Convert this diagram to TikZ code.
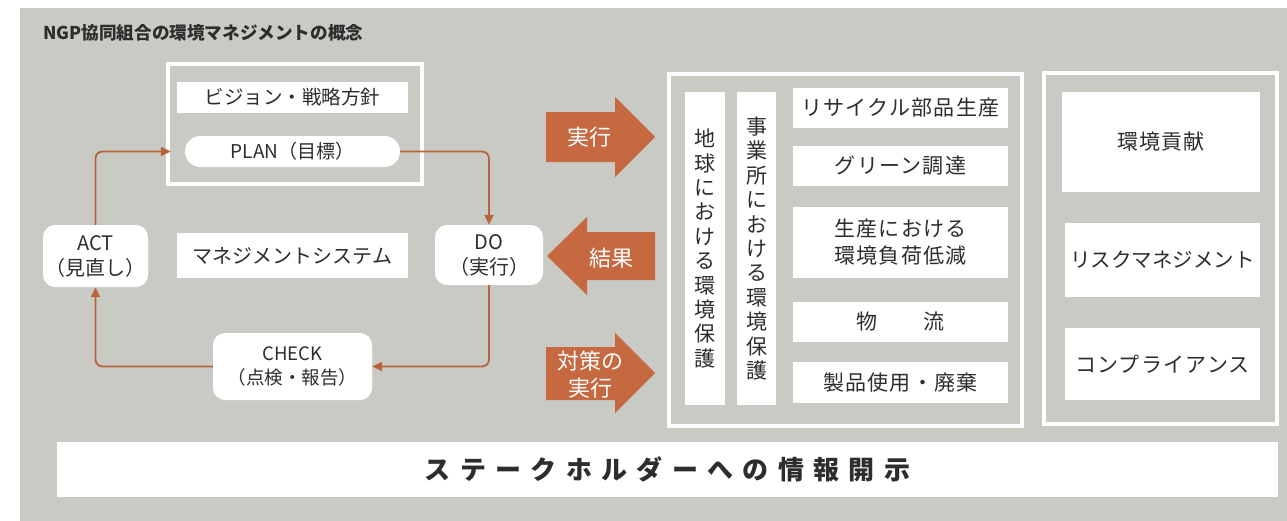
\documentclass[tikz,border=0pt]{standalone}
\usepackage{fontspec}
\setmainfont{Noto Sans CJK JP}
\newfontfamily\spacedfont[LetterSpace=36]{Noto Sans CJK JP}
\newfontfamily\boxfont[LetterSpace=6]{Noto Sans CJK JP}
\usetikzlibrary{arrows.meta}
\definecolor{bggray}{RGB}{201,202,196}
\definecolor{arrorange}{RGB}{198,104,64}
\definecolor{lineorange}{RGB}{185,98,62}
\definecolor{txt}{RGB}{45,45,45}
\begin{document}
\begin{tikzpicture}[x=1pt,y=-1pt,
  wbox/.style={fill=white, inner sep=0pt, align=center, text=txt},
  pdca/.style={wbox, rounded corners=12pt, font=\fontsize{20}{25}\selectfont},
  rbox/.style={wbox, font=\boxfont\fontsize{21}{27}\selectfont},
  vbox/.style={wbox, font=\fontsize{21}{24.4}\selectfont},
  frame/.style={draw=white, line width=3.5pt, inner sep=0pt},
  flow/.style={draw=lineorange, line width=1.8pt, rounded corners=7pt, -{Triangle[length=10pt,width=9pt]}},
  blockarrow/.style={fill=arrorange},
  arrowtext/.style={text=white, align=center, font=\fontsize{22}{27}\selectfont, inner sep=0pt}
]
\useasboundingbox (0,0) rectangle (1287,520);
\fill[white] (0,0) rectangle (1287,520);
\fill[bggray] (20,8) rectangle (1287,521);

% title
\node[anchor=west, text=txt, inner sep=0pt, font=\fontsize{17.6}{20}\selectfont\bfseries] (title) at (43,33) {NGP協同組合の環境マネジメントの概念};

% plan frame
\node[frame, minimum width=254, minimum height=120] (planframe) at (295,124) {};
\node[wbox, minimum width=231, minimum height=31, font=\fontsize{19.5}{24}\selectfont] (vision) at (292.5,97.5) {ビジョン・戦略方針};
\node[wbox, minimum width=215, minimum height=31, rounded corners=15.5pt, font=\fontsize{19}{24}\selectfont] (plan) at (292.5,151.5) {PLAN（目標）};

% PDCA
\node[pdca, minimum width=105, minimum height=62] (act) at (95.5,256) {ACT\\（見直し）};
\node[wbox, minimum width=231, minimum height=45, font=\fontsize{20}{24}\selectfont] (mgmt) at (292.5,255.5) {マネジメントシステム};
\node[pdca, minimum width=108, minimum height=60] (do) at (489,255) {DO\\（実行）};
\node[pdca, minimum width=159, minimum height=67, font=\fontsize{18.5}{24}\selectfont] (check) at (292.5,366.5) {CHECK\\（点検・報告）};

\draw[flow] (plan.east) -| (do.north);
\draw[flow] (do.south) |- (check.east);
\draw[flow] (check.west) -| (act.south);
\draw[flow, shorten >=14pt] (act.north) |- (plan.west);

% block arrows
\fill[blockarrow] (546,112) -- (615,112) -- (615,97) -- (655,137) -- (615,177) -- (615,162) -- (546,162) -- cycle;
\node[arrowtext] (jikko) at (589,137) {実行};
\fill[blockarrow] (547,256) -- (587,217) -- (587,232) -- (655,232) -- (655,280) -- (587,280) -- (587,295) -- cycle;
\node[arrowtext] (kekka) at (611,258) {結果};
\fill[blockarrow] (546,347) -- (615,347) -- (615,333) -- (655,373) -- (615,413) -- (615,400) -- (546,400) -- cycle;
\node[arrowtext] (taisaku) at (590,375) {対策の\\実行};

% middle frame
\node[frame, minimum width=353, minimum height=352] (midframe) at (845.5,250) {};
\node[vbox, minimum width=40, minimum height=313] (chikyu) at (705,248.5) {地\\球\\に\\お\\け\\る\\環\\境\\保\\護};
\node[vbox, minimum width=39, minimum height=313] (jigyo) at (756.5,248.5) {事\\業\\所\\に\\お\\け\\る\\環\\境\\保\\護};
\node[rbox, minimum width=215, minimum height=40] (recycle) at (900.5,108) {リサイクル部品生産};
\node[rbox, minimum width=215, minimum height=40] (green) at (900.5,166) {グリーン調達};
\node[rbox, minimum width=215, minimum height=71] (seisan) at (900.5,242.5) {生産における\\環境負荷低減};
\node[rbox, minimum width=215, minimum height=40] (butsuryu) at (900.5,322) {物\hspace{46pt}流};
\node[rbox, minimum width=215, minimum height=41] (seihin) at (900.5,382.5) {製品使用・廃棄};

% right frame
\node[frame, minimum width=233, minimum height=351] (rightframe) at (1160.5,248.5) {};
\node[rbox, minimum width=198, minimum height=100] (kouken) at (1161,142) {環境貢献};
\node[rbox, minimum width=195, minimum height=74, font=\fontsize{20.5}{27}\selectfont] (risk) at (1162.5,260) {リスクマネジメント};
\node[rbox, minimum width=195, minimum height=72] (comp) at (1162.5,364) {コンプライアンス};

% bottom bar
\node[wbox, minimum width=1221, minimum height=55, font=\spacedfont\fontsize{26}{30}\selectfont\bfseries] (disclose) at (667.5,469.5) {ステークホルダーへの情報開示};
\end{tikzpicture}
\end{document}
